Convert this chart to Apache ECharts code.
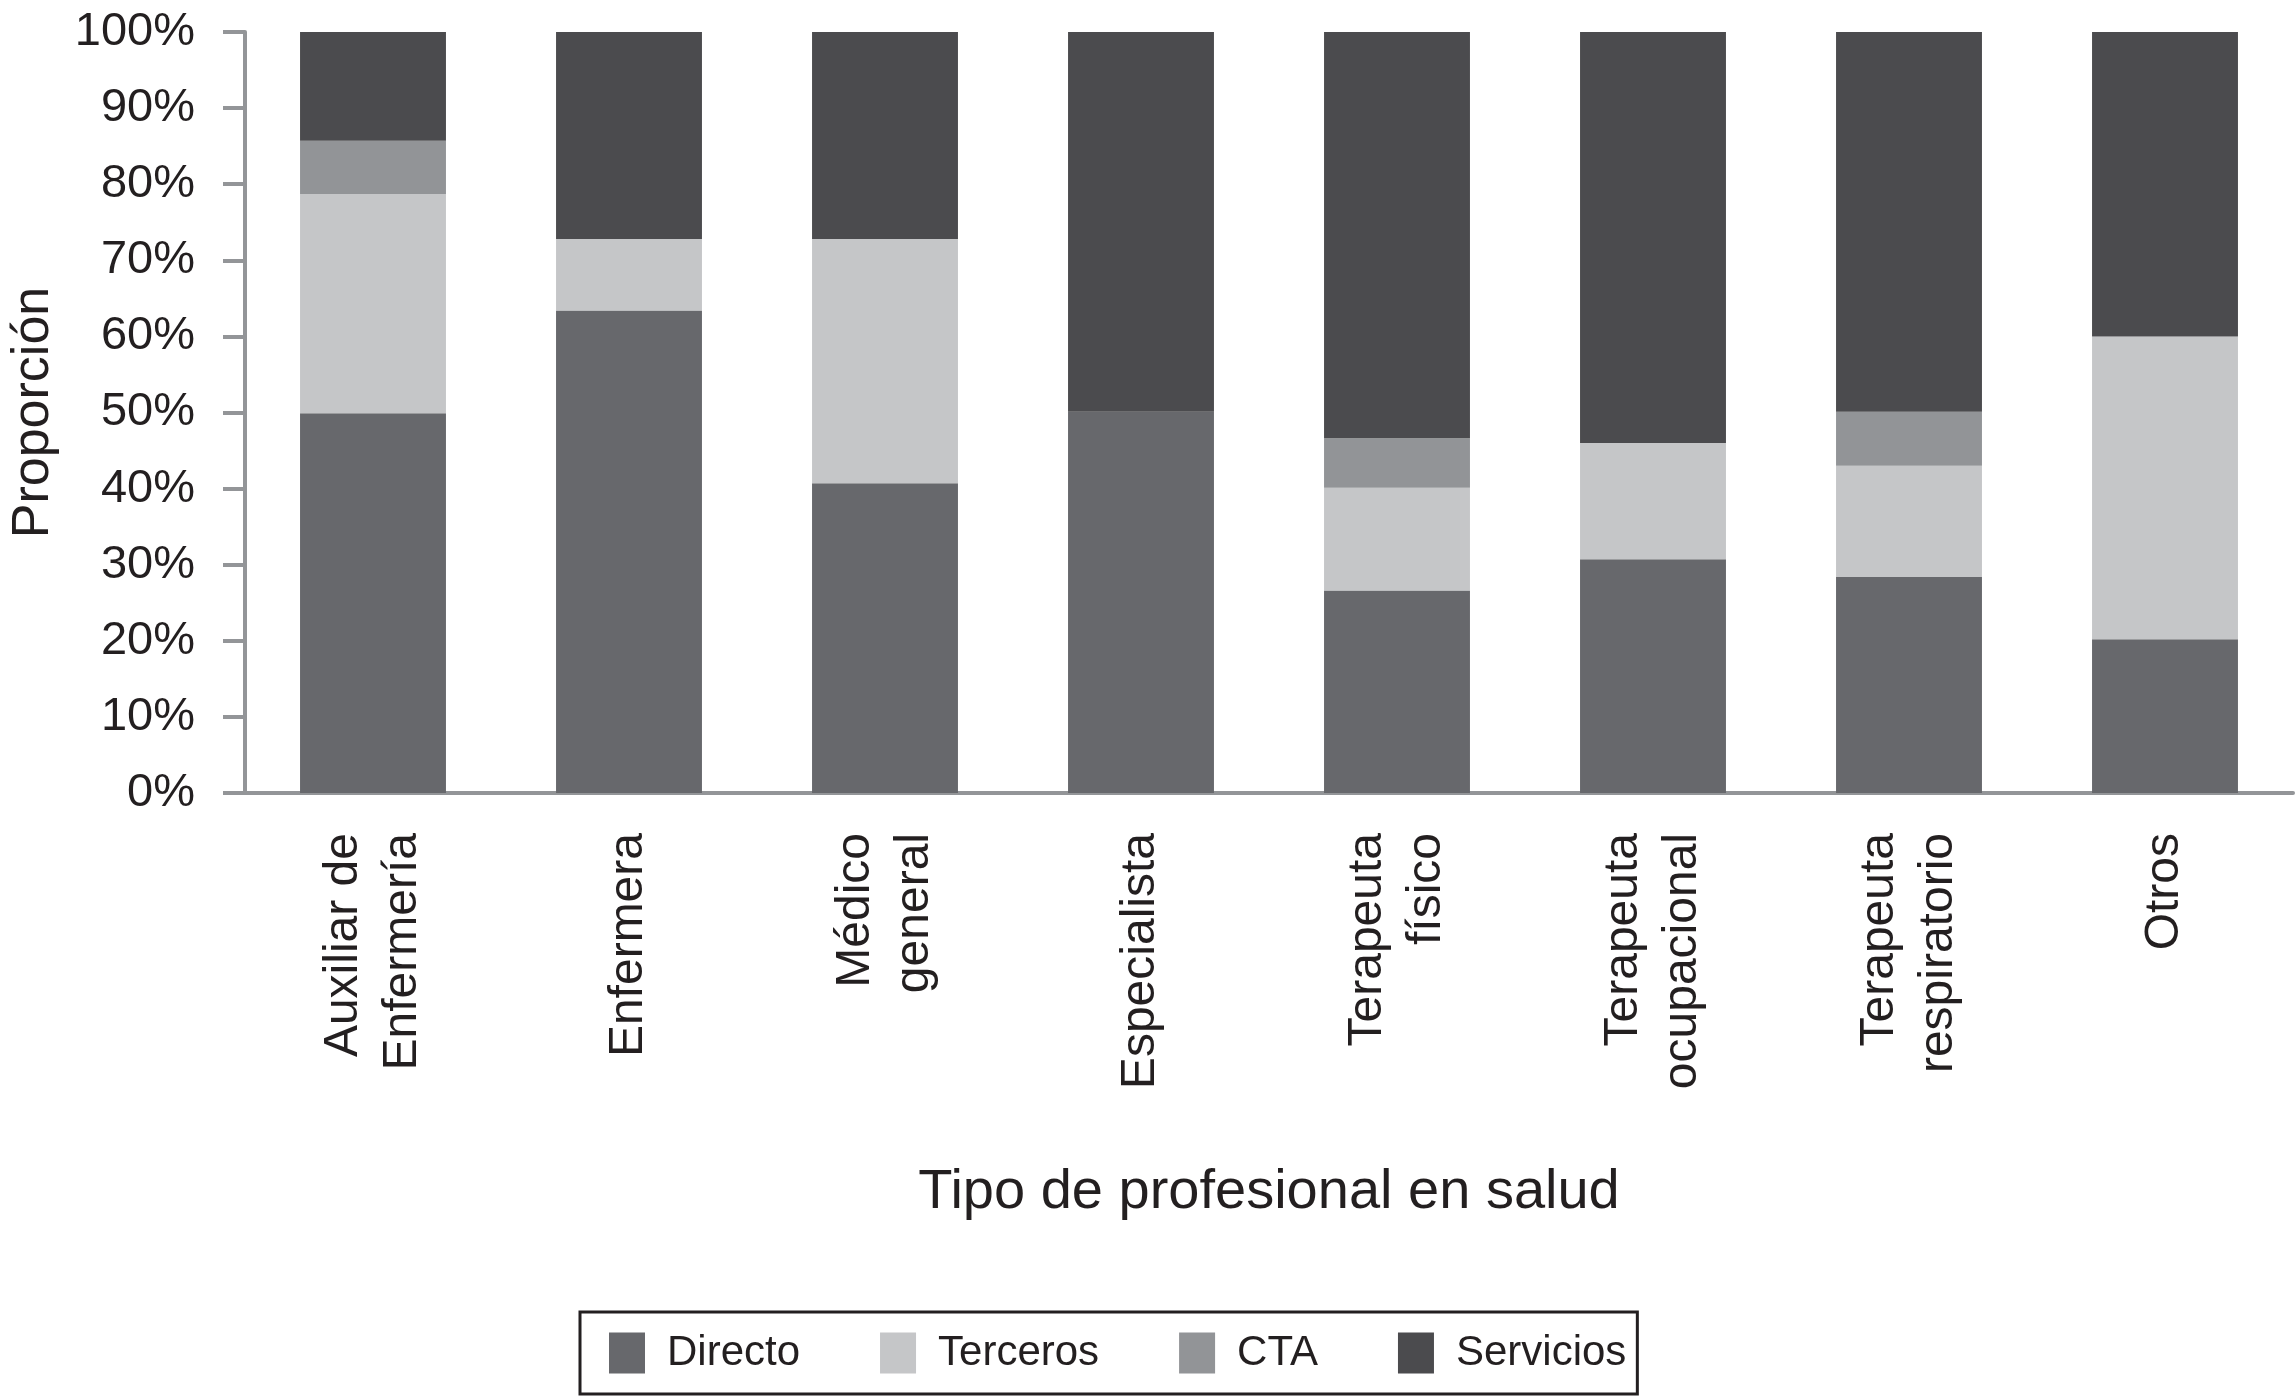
<!DOCTYPE html>
<html><head><meta charset="utf-8">
<script src="https://cdn.jsdelivr.net/npm/echarts@6/dist/echarts.min.js"></script>
<style>html,body{margin:0;padding:0;background:#fff}#c{width:2296px;height:1397px}</style>
</head><body><div id="c"></div>
<script>
const categories = ['Auxiliar de\nEnfermería','Enfermera','Médico\ngeneral','Especialista','Terapeuta\nfísico','Terapeuta\nocupacional','Terapeuta\nrespiratorio','Otros'];
const directo   = [49.9, 63.4, 40.7, 50.1, 26.6, 30.7, 28.4, 20.2];
const terceros  = [28.8, 9.4, 32.1, 0, 13.5, 15.3, 14.6, 39.8];
const cta       = [7.0, 0, 0, 0, 6.5, 0, 7.1, 0];
const servicios = [14.3, 27.2, 27.2, 49.9, 53.4, 54.0, 49.9, 40.0];
const yTicks = [0,10,20,30,40,50,60,70,80,90,100];

const FONT = "'Liberation Sans', Arial, Helvetica, sans-serif";
const AX = '#939598';
const chart = echarts.init(document.getElementById('c'));
function s(name, data, color){
  return {name, type:'bar', stack:'t', data, barCategoryGap:'43%', itemStyle:{color}, emphasis:{disabled:true}};
}
chart.setOption({
  animation:false,
  textStyle:{fontFamily:FONT},
  grid:{left:240, right:3, top:32, bottom:604, containLabel:false},
  legend:{
    left:580, top:1312, orient:'horizontal',
    padding:[20,11,20,29], itemGap:80, itemWidth:36, itemHeight:41,
    borderColor:'#231f20', borderWidth:3, borderRadius:0,
    icon:'rect',
    textStyle:{fontFamily:FONT, fontSize:42, color:'#231f20', padding:[0,0,0,17]},
    data:['Directo','Terceros','CTA','Servicios']
  },
  xAxis:{
    type:'category', data:categories,
    axisLine:{lineStyle:{color:AX, width:4}},
    axisTick:{show:false},
    axisLabel:{rotate:90, interval:0, margin:40, fontSize:48, lineHeight:59, color:'#231f20', fontFamily:FONT},
    name:'Tipo de profesional en salud', nameLocation:'middle', nameGap:372,
    nameTextStyle:{fontSize:56, color:'#231f20', fontFamily:FONT}
  },
  yAxis:{
    type:'value', min:0, max:100, interval:10,
    axisLine:{show:true, lineStyle:{color:AX, width:4}},
    axisTick:{show:true, length:22, lineStyle:{color:AX, width:4}},
    splitLine:{show:false},
    axisLabel:{margin:50, fontSize:47, color:'#231f20', fontFamily:FONT, formatter:v=>v+'%'},
    name:'Proporción', nameLocation:'middle', nameGap:185, nameRotate:90,
    nameTextStyle:{fontSize:52, color:'#231f20', fontFamily:FONT}
  },
  series:[
    s('Directo', directo, '#67686c'),
    s('Terceros', terceros, '#c5c6c8'),
    s('CTA', cta, '#929497'),
    s('Servicios', servicios, '#4b4b4e')
  ]
});
</script></body></html>
